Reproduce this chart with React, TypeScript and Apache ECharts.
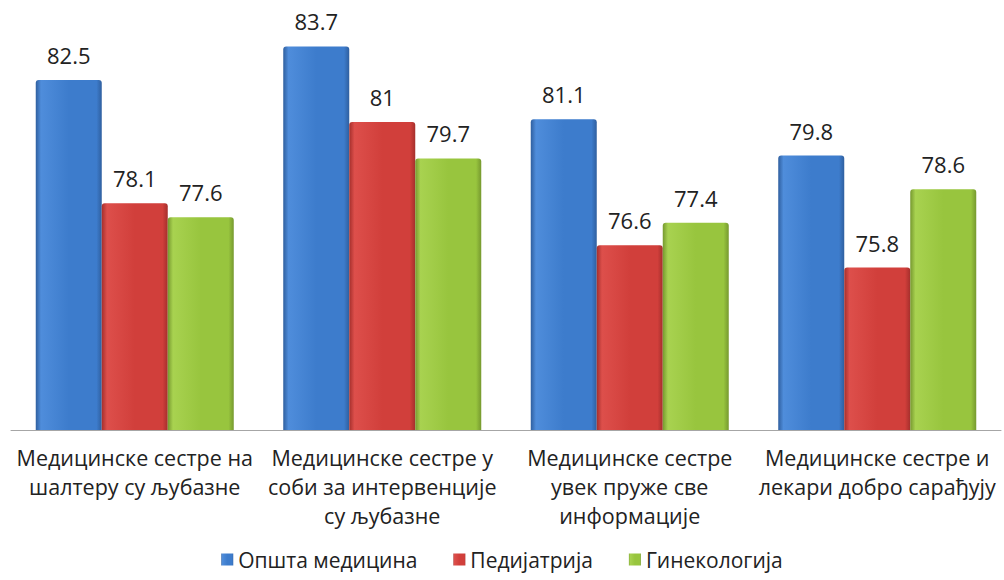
import React, { useEffect, useRef } from "react";
import * as echarts from "echarts";

const categories = [
  "Медицинске сестре на\nшалтеру су љубазне",
  "Медицинске сестре у\nсоби за интервенције\nсу љубазне",
  "Медицинске сестре\nувек пруже све\nинформације",
  "Медицинске сестре и\nлекари добро сарађују",
];
const seriesNames = ["Општа медицина", "Педијатрија", "Гинекологија"];
const opstaMedicina = [82.5, 83.7, 81.1, 79.8];
const pedijatrija = [78.1, 81, 76.6, 75.8];
const ginekologija = [77.6, 79.7, 77.4, 78.6];

const FONT = "'Open Sans', 'Noto Sans', sans-serif";

function grad(light: string, mid: string, dark: string) {
  return new echarts.graphic.LinearGradient(0, 0, 1, 0, [
    { offset: 0, color: dark },
    { offset: 0.08, color: light },
    { offset: 0.5, color: mid },
    { offset: 0.92, color: mid },
    { offset: 1, color: dark },
  ]);
}

export default function App() {
  const ref = useRef<HTMLDivElement>(null);
  useEffect(() => {
    document.body.style.margin = "0";
    if (!ref.current) return;
    const chart = echarts.init(ref.current, undefined, { renderer: "svg" });
    const styles = [
      { color: grad("#4f8ddb", "#3d7ccc", "#2f5f9f"), legend: "#3d7ccc" },
      { color: grad("#dd4f4b", "#d13f3b", "#a52f2c"), legend: "#d13f3b" },
      { color: grad("#a8d250", "#98c53e", "#76992f"), legend: "#98c53e" },
    ];
    const datas = [opstaMedicina, pedijatrija, ginekologija];
    chart.setOption({
      animation: false,
      backgroundColor: "#ffffff",
      grid: { left: 11, right: 3, top: 10, bottom: 150, containLabel: false },
      legend: {
        top: 547,
        left: "center",
        padding: 2,
        icon: "rect",
        itemWidth: 12,
        itemHeight: 12,
        itemGap: 36,
        textStyle: { fontFamily: FONT, fontSize: 21, color: "#222" },
        data: seriesNames,
      },
      xAxis: {
        type: "category",
        data: categories,
        axisLine: { show: true, lineStyle: { color: "#a6a6a6", width: 1 } },
        axisTick: { show: false },
        axisLabel: {
          interval: 0,
          margin: 13,
          fontFamily: FONT,
          fontSize: 21.5,
          lineHeight: 29,
          color: "#222",
        },
      },
      yAxis: {
        type: "value",
        min: 70,
        max: 85,
        show: false,
        splitLine: { show: false },
      },
      series: datas.map((d, i) => ({
        name: seriesNames[i],
        type: "bar",
        data: d,
        barGap: "0%",
        barCategoryGap: "20%",
        color: styles[i].legend,
        itemStyle: {
          color: styles[i].color,
          borderRadius: [3, 3, 0, 0],
        },
        label: {
          show: true,
          position: "top",
          distance: 14,
          fontFamily: FONT,
          fontSize: 22,
          color: "#222",
        },
      })),
    });
    return () => chart.dispose();
  }, []);
  return <div ref={ref} style={{ width: 1004, height: 580 }} />;
}
